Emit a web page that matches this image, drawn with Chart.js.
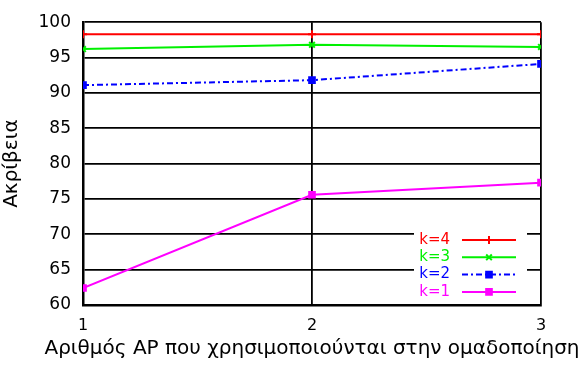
<!DOCTYPE html>
<html>
<head>
<meta charset="utf-8">
<script src="https://cdn.jsdelivr.net/npm/chart.js@4/dist/chart.umd.min.js"></script>
<style>
  html,body{margin:0;padding:0;background:#fff;}
  #wrap{width:582px;height:365px;}
</style>
</head>
<body>
<div id="wrap"><canvas id="acc"></canvas></div>
<script>
const apCounts=[1,2,3];
const k4=[98.3,98.3,98.3];
const k3=[96.2,96.8,96.5];
const k2=[91.1,91.8,94.1];
const k1=[62.4,75.6,77.3];
const yTicks=[60,65,70,75,80,85,90,95,100];
const xTitle="Αριθμός AP που χρησιμοποιούνται στην ομαδοποίηση";
const yTitle="Ακρίβεια";

const FONT="'DejaVu Sans', sans-serif";

function pts(vals){ return vals.map((v,i)=>({x:apCounts[i],y:v})); }

let seriesConfigs=[
  { label:"k=4", vals:k4, color:"#ff0000", style:"cross", dash:[] },
  { label:"k=3", vals:k3, color:"#00f000", style:"crossRot", dash:[] },
  { label:"k=2", vals:k2, color:"#0000ff", style:"rect", dash:[6,3,2,3] },
  { label:"k=1", vals:k1, color:"#ff00ff", style:"rect", dash:[] }
];

// legend boxed inside the plot, bottom right (gnuplot style)
const innerLegend={
  id:"innerLegend",
  afterDraw(chart){
    const {ctx,chartArea}=chart;
    const x0=chartArea.right-127, y0=chartArea.bottom-80;
    ctx.save();
    ctx.fillStyle="#fff";
    ctx.fillRect(x0,y0,113,75);
    ctx.font="15px "+FONT;
    ctx.textBaseline="middle";
    ctx.textAlign="right";
    chart.data.datasets.forEach((ds,i)=>{
      const y=y0+15+i*17.3;
      ctx.fillStyle=ds.borderColor;
      ctx.fillText(ds.label,x0+36,y);
      ctx.strokeStyle=ds.borderColor;
      ctx.lineWidth=2;
      ctx.setLineDash(ds.borderDash||[]);
      ctx.beginPath();ctx.moveTo(x0+48,y);ctx.lineTo(x0+102,y);ctx.stroke();
      ctx.setLineDash([]);
      Chart.helpers.drawPoint(ctx,{pointStyle:ds.pointStyle,radius:4,borderWidth:2},x0+75,y);
    });
    // x axis title, not clipped to the axis width (it runs past the canvas edge)
    ctx.fillStyle="#000";
    ctx.font="20px "+FONT;
    ctx.textAlign="center";
    ctx.fillText(xTitle,(chartArea.left+chartArea.right)/2,chart.height-16);
    ctx.restore();
  }
};

const ctx=document.getElementById("acc").getContext("2d");
new Chart(ctx,{
  type:"line",
  data:{
    datasets:seriesConfigs.map(s=>({
      label:s.label,
      data:pts(s.vals),
      borderColor:s.color,
      backgroundColor:s.color,
      borderWidth:2,
      borderDash:s.dash,
      pointStyle:s.style,
      pointRadius:4,
      pointBorderWidth:2,
      fill:false,
      tension:0
    }))
  },
  options:{
    responsive:true,
    maintainAspectRatio:false,
    animation:false,
    layout:{padding:{top:20,right:41,left:0,bottom:0}},
    plugins:{legend:{display:false},tooltip:{enabled:false}},
    scales:{
      x:{
        type:"linear",min:1,max:3,
        afterBuildTicks(s){ s.ticks=apCounts.map(v=>({value:v})); },
        afterFit(s){ s.height=60; },
        border:{color:"#000",width:2.5},
        grid:{color:"#000",lineWidth:1.8,drawTicks:false},
        ticks:{color:"#000",font:{family:FONT,size:16},padding:11,maxRotation:0}
      },
      y:{
        min:60,max:100,
        afterBuildTicks(s){ s.ticks=yTicks.map(v=>({value:v})); },
        afterFit(s){ s.width=83; },
        border:{color:"#000",width:2.5},
        grid:{color:"#000",lineWidth:1.8,drawTicks:false},
        ticks:{color:"#000",font:{family:FONT,size:17},padding:12},
        title:{display:true,text:yTitle,color:"#000",font:{family:FONT,size:20},padding:{top:0,bottom:0}}
      }
    }
  },
  plugins:[innerLegend]
});
</script>
</body>
</html>
